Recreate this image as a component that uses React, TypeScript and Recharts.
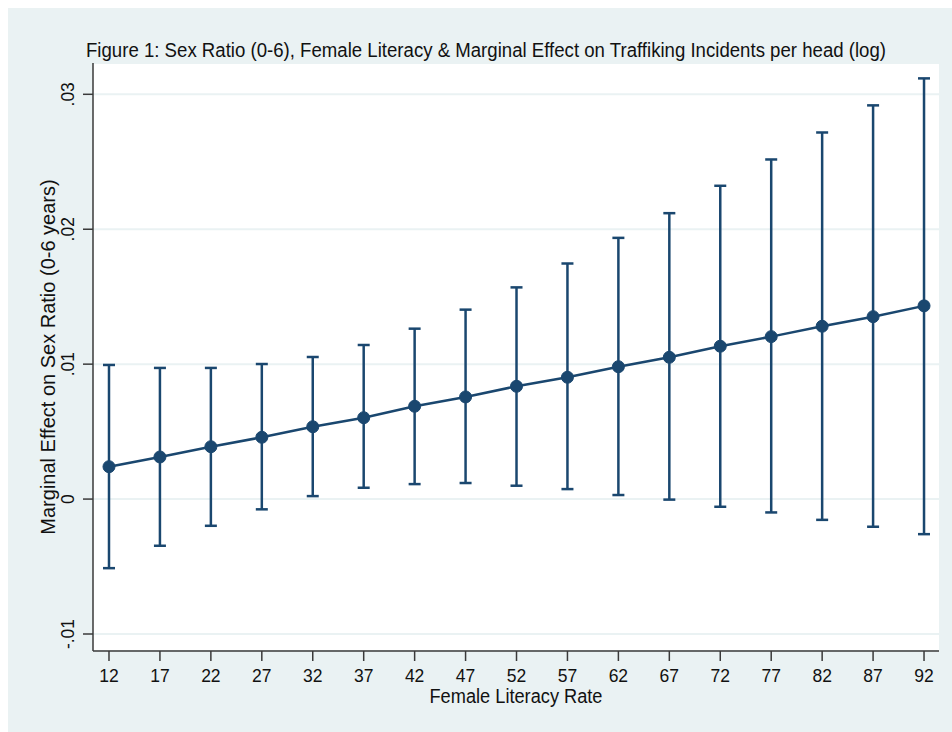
import React from 'react';
import { ComposedChart, Line, XAxis, YAxis, CartesianGrid, ErrorBar } from 'recharts';

const literacy = [12, 17, 22, 27, 32, 37, 42, 47, 52, 57, 62, 67, 72, 77, 82, 87, 92];
const marginalEffect = [0.0024, 0.00312, 0.00388, 0.00458, 0.00536, 0.00603, 0.00688, 0.00757, 0.00836, 0.00903, 0.00981, 0.01051, 0.01133, 0.01204, 0.01281, 0.01352, 0.01432];
const ciUpper = [0.00994, 0.00972, 0.00972, 0.01001, 0.01053, 0.01142, 0.01263, 0.01404, 0.01569, 0.01746, 0.01936, 0.02119, 0.02322, 0.02517, 0.02717, 0.02918, 0.03118];
const ciLower = [-0.00512, -0.00346, -0.00198, -0.00076, 0.00022, 0.00084, 0.00111, 0.00119, 0.00099, 0.00074, 0.0003, -0.00004, -0.00057, -0.00099, -0.00154, -0.00205, -0.0026];
const yTicks = [-0.01, 0, 0.01, 0.02, 0.03];
const yTickLabels = ['-.01', '0', '.01', '.02', '.03'];

const titleText = 'Figure 1: Sex Ratio (0-6), Female Literacy & Marginal Effect on Traffiking Incidents per head (log)';
const xLabelText = 'Female Literacy Rate';
const yLabelText = 'Marginal Effect on Sex Ratio (0-6 years)';

const data = literacy.map((x, i) => ({
  x,
  y: marginalEffect[i],
  err: [marginalEffect[i] - ciLower[i], ciUpper[i] - marginalEffect[i]],
}));

const NAVY = '#1a476f';
const BG = '#eaf2f3';
const FONT = '"Liberation Sans", Arial, Helvetica, sans-serif';
const TEXT = '#111111';

const YTick = (props: any) => {
  const { x, y, payload } = props;
  const idx = yTicks.findIndex((t) => Math.abs(t - payload.value) < 1e-9);
  const label = idx >= 0 ? yTickLabels[idx] : String(payload.value);
  return (
    <text
      x={x}
      y={y}
      transform={`rotate(-90 ${x} ${y})`}
      textAnchor="middle"
      fontSize={17.5}
      fontFamily={FONT}
      fill={TEXT}
    >
      {label}
    </text>
  );
};

const XTick = (props: any) => {
  const { x, y, payload } = props;
  return (
    <text x={x} y={y} dy="0.71em" textAnchor="middle" fontSize={17.5} fontFamily={FONT} fill={TEXT}>
      {payload.value}
    </text>
  );
};

export default function App() {
  return (
    <div style={{ position: 'absolute', left: 8, top: 8, width: 944, height: 724, background: BG, overflow: 'hidden' }}>
      <ComposedChart
        width={944}
        height={724}
        data={data}
        margin={{ top: 55, right: 13, bottom: 0, left: 0 }}
      >
        <CartesianGrid horizontal vertical={false} stroke={BG} strokeWidth={2} fill="#ffffff" />
        <XAxis
          dataKey="x"
          type="number"
          domain={[10.43, 93.47]}
          ticks={literacy}
          allowDataOverflow
          height={81}
          tickSize={10}
          tickMargin={9}
          stroke="#3a3a3a"
          strokeWidth={1.5}
          tick={<XTick />}
          interval={0}
        />
        <YAxis
          type="number"
          domain={[-0.01126, 0.03232]}
          ticks={yTicks}
          allowDataOverflow
          width={85}
          tickSize={10}
          tickMargin={9}
          stroke="#3a3a3a"
          strokeWidth={1.5}
          tick={<YTick />}
          interval={0}
        />
        <Line
          dataKey="y"
          stroke={NAVY}
          strokeWidth={2.5}
          dot={{ r: 6, fill: NAVY, stroke: NAVY, strokeWidth: 1 }}
          activeDot={false}
          isAnimationActive={false}
        >
          <ErrorBar dataKey="err" direction="y" width={6} stroke={NAVY} strokeWidth={2.5} isAnimationActive={false} />
        </Line>
      </ComposedChart>
      <svg
        width={944}
        height={724}
        style={{ position: 'absolute', left: 0, top: 0, pointerEvents: 'none' }}
      >
        <text x={78} y={49} fontSize={19.5} fontFamily={FONT} fill={TEXT} textLength={800} lengthAdjust="spacingAndGlyphs">
          {titleText}
        </text>
        <text x={508} y={695} textAnchor="middle" fontSize={19.5} fontFamily={FONT} fill={TEXT} textLength={173} lengthAdjust="spacingAndGlyphs">
          {xLabelText}
        </text>
        <text
          x={47}
          y={349}
          transform="rotate(-90 47 349)"
          textAnchor="middle"
          fontSize={20}
          fontFamily={FONT}
          fill={TEXT}
        >
          {yLabelText}
        </text>
      </svg>
    </div>
  );
}
